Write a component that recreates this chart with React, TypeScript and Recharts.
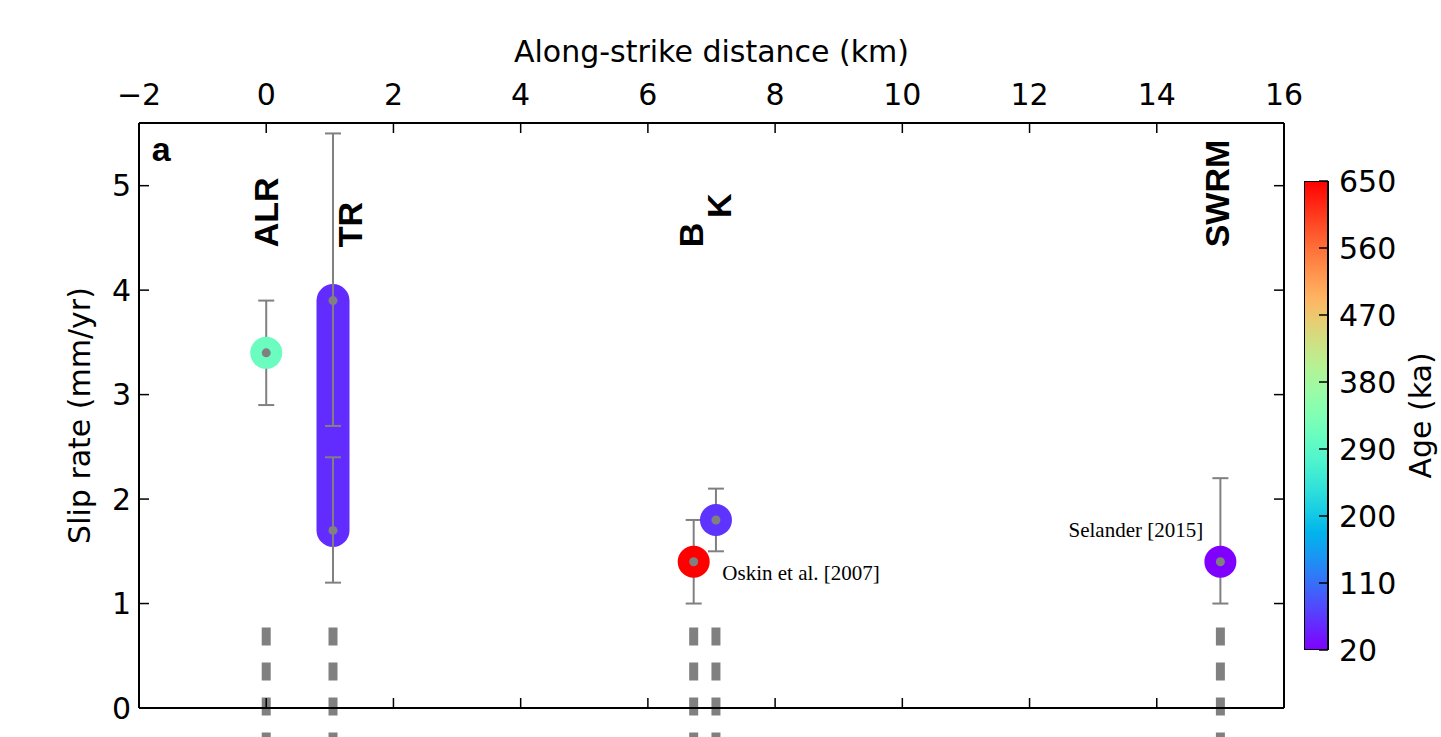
import React from 'react'
import {
  ComposedChart, Scatter, Line, XAxis, YAxis, ErrorBar, ReferenceLine,
  BarChart, Bar,
} from 'recharts'

// slip-rate measurements (gray dots + error bars)
const measDist    = [0, 1.05, 1.05, 6.72, 7.07, 15]
const measSlip    = [3.4, 3.9, 1.7, 1.4, 1.8, 1.4]
const measErrLow  = [0.5, 1.2, 0.5, 0.4, 0.3, 0.4]
const measErrHigh = [0.5, 1.6, 0.7, 0.4, 0.3, 0.8]

// coloured markers, coloured by age
const siteNames = ['ALR', 'B', 'K', 'SWRM']
const siteDist  = [0, 6.72, 7.07, 15]
const siteSlip  = [3.4, 1.4, 1.8, 1.4]
const siteAge   = [310, 650, 60, 20]

// TR spans a range rather than a single value
const trDist  = 1.05
const trRange = [1.7, 3.9]
const trAge   = 55

// site name labels
const labelText = ['ALR', 'TR', 'B', 'K', 'SWRM']
const labelDist = [0, 1.32, 6.68, 7.11, 14.94]
const labelSlip = [4.41, 4.41, 4.41, 4.69, 4.41]

// fault traces
const faultDist = [0, 1.05, 6.72, 7.07, 15]

const xTicks   = [-2, 0, 2, 4, 6, 8, 10, 12, 14, 16]
const yTicks   = [0, 1, 2, 3, 4, 5]
const ageTicks = [20, 110, 200, 290, 380, 470, 560, 650]
const AGE_MIN = 20
const AGE_MAX = 650

// matplotlib 'rainbow'
function rainbow(t: number) {
  const c = (v: number) => Math.round(255 * Math.max(0, Math.min(1, v)))
  const r = c(Math.abs(2 * t - 0.5))
  const g = c(Math.sin(Math.PI * t))
  const b = c(Math.cos(Math.PI * t / 2))
  return `rgb(${r},${g},${b})`
}
const ageColor = (a: number) => rainbow((a - AGE_MIN) / (AGE_MAX - AGE_MIN))

const fmt = (v: number) => (v < 0 ? '\u2212' + Math.abs(v) : String(v))

const GRAY = '#808080'
const SANS = 'DejaVu Sans'
const BOLD = 'Liberation Sans'

export default function App() {
  const meas = measDist.map((x, i) => ({
    x, y: measSlip[i], err: [measErrLow[i], measErrHigh[i]],
  }))
  const sites = siteNames.map((n, i) => ({
    name: n, x: siteDist[i], y: siteSlip[i], color: ageColor(siteAge[i]),
  }))
  const capsule = trRange.map(y => ({ x: trDist, y }))
  const labels = labelText.map((t, i) => ({ t, x: labelDist[i], y: labelSlip[i] }))
  const panel = [{ t: 'a', x: -1.8, y: 5.24 }]
  const cbar = [{ n: 'age', range: [AGE_MIN, AGE_MAX] }]
  const stops = Array.from({ length: 21 }, (_, i) => i / 20)

  const tickStyle = { fontSize: 30, fill: '#000', fontFamily: SANS }

  return (
    <div style={{
      position: 'fixed', left: 0, top: 0, width: 1441, height: 737,
      overflow: 'hidden', background: '#fff', fontFamily: SANS,
    }}>
      <ComposedChart width={1441} height={900}
        margin={{ top: 0, right: 147, bottom: 182, left: 0 }}>
        <XAxis xAxisId={0} dataKey="x" type="number" orientation="top" height={123}
          domain={[-2, 16]} ticks={xTicks} interval={0} allowDataOverflow
          tickFormatter={fmt} tick={tickStyle} tickSize={-10} tickMargin={28}
          axisLine={{ stroke: '#000', strokeWidth: 2 }}
          tickLine={{ stroke: '#000', strokeWidth: 1.5 }}
          label={{
            content: ({ viewBox }: any) => (
              <text x={viewBox.x + viewBox.width / 2} y={viewBox.y + 62}
                textAnchor="middle" fontSize={30} fontFamily={SANS} fill="#000">
                Along-strike distance (km)
              </text>
            ),
          }}
        />
        <XAxis xAxisId="b" dataKey="x" type="number" orientation="bottom" height={10}
          domain={[-2, 16]} ticks={xTicks} interval={0} allowDataOverflow
          tickFormatter={() => ''} tickSize={-10}
          axisLine={{ stroke: '#000', strokeWidth: 2 }}
          tickLine={{ stroke: '#000', strokeWidth: 1.5 }}
        />
        <YAxis yAxisId={0} dataKey="y" type="number" width={139}
          domain={[0, 5.6]} ticks={yTicks} interval={0} allowDataOverflow
          tick={tickStyle} tickSize={-10} tickMargin={18}
          axisLine={{ stroke: '#000', strokeWidth: 2 }}
          tickLine={{ stroke: '#000', strokeWidth: 1.5 }}
          label={{
            content: ({ viewBox }: any) => {
              const cx = viewBox.x + 90
              const cy = viewBox.y + viewBox.height / 2
              return (
                <text x={cx} y={cy} transform={`rotate(-90 ${cx} ${cy})`}
                  textAnchor="middle" fontSize={30} fontFamily={SANS} fill="#000">
                  Slip rate (mm/yr)
                </text>
              )
            },
          }}
        />
        <YAxis yAxisId="r" type="number" orientation="right" width={10}
          domain={[0, 5.6]} ticks={yTicks} interval={0} allowDataOverflow
          tickFormatter={() => ''} tickSize={-10}
          axisLine={{ stroke: '#000', strokeWidth: 2 }}
          tickLine={{ stroke: '#000', strokeWidth: 1.5 }}
        />

        {faultDist.map(d => (
          <ReferenceLine key={d} segment={[{ x: d, y: 0.77 }, { x: d, y: -0.8 }]}
            stroke={GRAY} strokeWidth={9} strokeDasharray="18 17" ifOverflow="visible" />
        ))}

        <Line data={capsule} dataKey="y" type="linear" stroke={ageColor(trAge)}
          strokeWidth={33} strokeLinecap="round" dot={false} activeDot={false}
          isAnimationActive={false} />

        <Scatter data={sites} isAnimationActive={false}
          shape={(p: any) => <circle cx={p.cx} cy={p.cy} r={16} fill={p.payload.color} />} />

        <Scatter data={meas} isAnimationActive={false}
          shape={(p: any) => <circle cx={p.cx} cy={p.cy} r={4.5} fill={GRAY} />}>
          <ErrorBar dataKey="err" direction="y" width={8} stroke={GRAY} strokeWidth={2} />
        </Scatter>

        <Scatter data={labels} isAnimationActive={false}
          shape={(p: any) => (
            <text x={p.cx} y={p.cy} transform={`rotate(-90 ${p.cx} ${p.cy})`}
              dy="0.36em" textAnchor="start" fontSize={34} fontWeight="bold"
              fontFamily={BOLD} fill="#000">
              {p.payload.t}
            </text>
          )} />

        <Scatter data={panel} isAnimationActive={false}
          shape={(p: any) => (
            <text x={p.cx} y={p.cy} fontSize={34} fontWeight="bold"
              fontFamily={BOLD} fill="#000">{p.payload.t}</text>
          )} />

        <Scatter data={[{ x: 7.17, y: 1.225 }]} isAnimationActive={false}
          shape={(p: any) => (
            <text x={p.cx} y={p.cy} fontSize={21} fontFamily="Liberation Serif" fill="#000">
              Oskin et al. [2007]
            </text>
          )} />
        <Scatter data={[{ x: 14.73, y: 1.636 }]} isAnimationActive={false}
          shape={(p: any) => (
            <text x={p.cx} y={p.cy} textAnchor="end" fontSize={21}
              fontFamily="Liberation Serif" fill="#000">
              Selander [2015]
            </text>
          )} />
      </ComposedChart>

      {/* colour bar */}
      <div style={{ position: 'absolute', left: 1304, top: 151 }}>
        <BarChart width={137} height={529} data={cbar} barCategoryGap={0}
          margin={{ top: 30, right: 0, bottom: 30, left: 0 }}>
          <defs>
            <linearGradient id="rb" x1="0" y1="1" x2="0" y2="0">
              {stops.map(s => (
                <stop key={s} offset={s} stopColor={rainbow(s)} />
              ))}
            </linearGradient>
          </defs>
          <XAxis dataKey="n" hide />
          <Bar dataKey="range" fill="url(#rb)" stroke="#000" strokeWidth={2}
            isAnimationActive={false} />
          <YAxis type="number" orientation="right" width={113}
            domain={[AGE_MIN, AGE_MAX]} ticks={ageTicks} interval={0} allowDataOverflow
            tick={tickStyle} tickSize={-9} tickMargin={20} axisLine={false}
            tickLine={{ stroke: '#000', strokeWidth: 1.5 }}
            label={{
              content: ({ viewBox }: any) => {
                const cx = viewBox.x + 103
                const cy = viewBox.y + viewBox.height / 2
                return (
                  <text x={cx} y={cy} transform={`rotate(-90 ${cx} ${cy})`}
                    textAnchor="middle" fontSize={30} fontFamily={SANS} fill="#000">
                    Age (ka)
                  </text>
                )
              },
            }}
          />
        </BarChart>
      </div>
    </div>
  )
}
